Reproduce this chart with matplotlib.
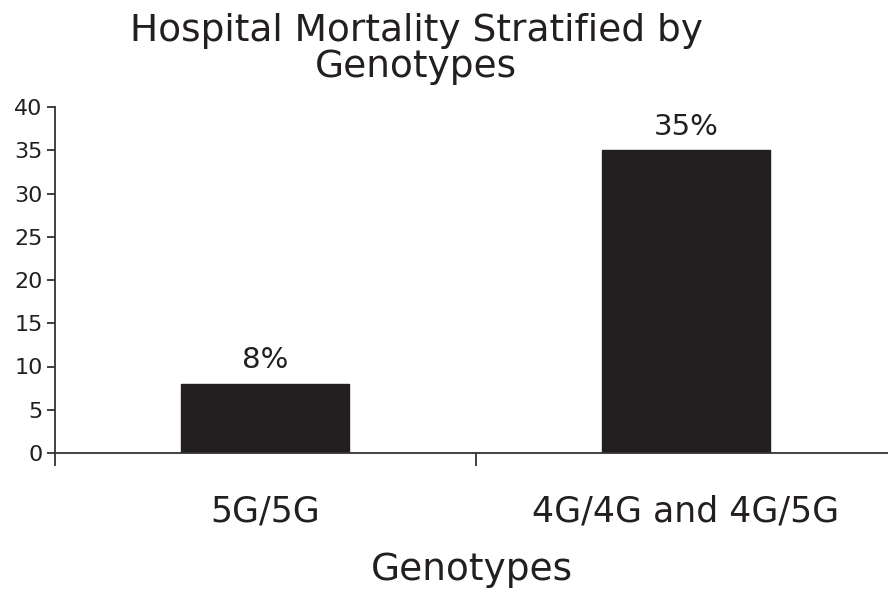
import matplotlib.pyplot as plt

# chart data
categories = ['5G/5G', '4G/4G and 4G/5G']
mortality = [8, 35]
bar_labels = ['8%', '35%']
yticks = [0, 5, 10, 15, 20, 25, 30, 35, 40]

fig = plt.figure(figsize=(8.88, 5.91), dpi=100)
ax = fig.add_axes([55 / 888, 1 - 453 / 591, 1 - 55 / 888, (453 - 107) / 591])

x = range(len(categories))
bars = ax.bar(x, mortality, width=0.4, color='#231f20', edgecolor='#231f20')

# value labels above bars
for b, lab in zip(bars, bar_labels):
    ax.annotate(lab, (b.get_x() + b.get_width() / 2, b.get_height()),
                xytext=(0, 7), textcoords='offset points',
                ha='center', va='bottom', fontsize=21, color='#231f20')

ax.set_ylim(0, 40)
ax.set_yticks(yticks)
ax.set_xlim(-0.5, 1.48)

# category labels without ticks, ticks between categories
ax.set_xticks(list(x))
ax.set_xticklabels(categories, fontsize=25, color='#231f20')
ax.tick_params(axis='x', length=0, pad=30)
ax.set_xticks([-0.5, 0.5], minor=True)
ax.tick_params(axis='x', which='minor', length=9, width=1.3, color='#333333')
ax.tick_params(axis='y', labelsize=16, length=6, width=1.3, color='#333333',
               labelcolor='#231f20', pad=3)

for s in ['top', 'right']:
    ax.spines[s].set_visible(False)
for s in ['left', 'bottom']:
    ax.spines[s].set_linewidth(1.3)
    ax.spines[s].set_color('#333333')

ax.set_xlabel('Genotypes', fontsize=27, color='#231f20', labelpad=17)

fig.text(416 / 888, 1 - 49 / 591, 'Hospital Mortality Stratified by\nGenotypes',
         ha='center', va='center', fontsize=27, color='#231f20', linespacing=1.0)

fig.savefig('out.png', dpi=100)
